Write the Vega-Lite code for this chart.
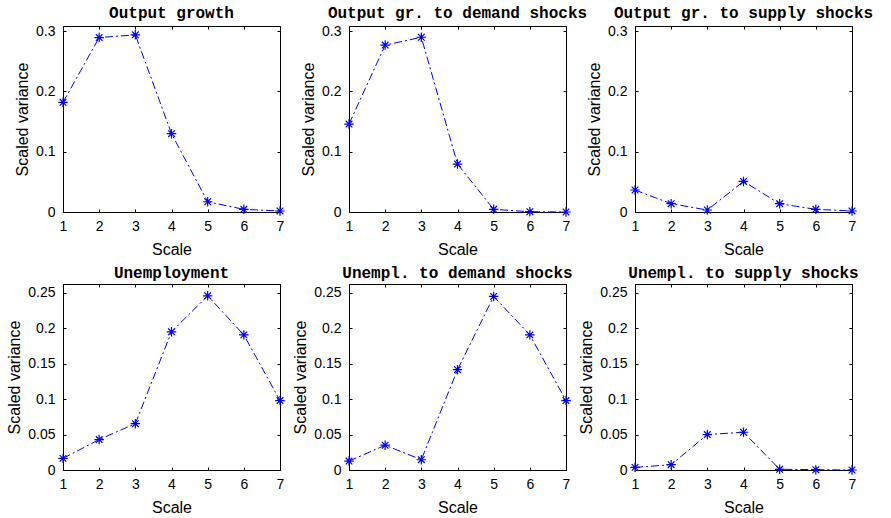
{
  "$schema": "https://vega.github.io/schema/vega-lite/v6.json",
  "background": "white",
  "padding": {"left": 5, "top": 4, "right": 5, "bottom": 5},
  "columns": 3,
  "spacing": {"row": 72, "column": 69},
  "bounds": "flush",
  "datasets": {
    "d": [
      {"panel": "p1", "scale": 1, "v": 0.182}, {"panel": "p1", "scale": 2, "v": 0.2895}, {"panel": "p1", "scale": 3, "v": 0.294}, {"panel": "p1", "scale": 4, "v": 0.130}, {"panel": "p1", "scale": 5, "v": 0.017}, {"panel": "p1", "scale": 6, "v": 0.0044}, {"panel": "p1", "scale": 7, "v": 0.0017},
      {"panel": "p2", "scale": 1, "v": 0.146}, {"panel": "p2", "scale": 2, "v": 0.277}, {"panel": "p2", "scale": 3, "v": 0.290}, {"panel": "p2", "scale": 4, "v": 0.0796}, {"panel": "p2", "scale": 5, "v": 0.0044}, {"panel": "p2", "scale": 6, "v": 0.0005}, {"panel": "p2", "scale": 7, "v": 0.0},
      {"panel": "p3", "scale": 1, "v": 0.0365}, {"panel": "p3", "scale": 2, "v": 0.0138}, {"panel": "p3", "scale": 3, "v": 0.0033}, {"panel": "p3", "scale": 4, "v": 0.0508}, {"panel": "p3", "scale": 5, "v": 0.0138}, {"panel": "p3", "scale": 6, "v": 0.0044}, {"panel": "p3", "scale": 7, "v": 0.0017},
      {"panel": "p4", "scale": 1, "v": 0.0164}, {"panel": "p4", "scale": 2, "v": 0.043}, {"panel": "p4", "scale": 3, "v": 0.0654}, {"panel": "p4", "scale": 4, "v": 0.195}, {"panel": "p4", "scale": 5, "v": 0.2458}, {"panel": "p4", "scale": 6, "v": 0.1907}, {"panel": "p4", "scale": 7, "v": 0.098},
      {"panel": "p5", "scale": 1, "v": 0.0126}, {"panel": "p5", "scale": 2, "v": 0.035}, {"panel": "p5", "scale": 3, "v": 0.0145}, {"panel": "p5", "scale": 4, "v": 0.1416}, {"panel": "p5", "scale": 5, "v": 0.2449}, {"panel": "p5", "scale": 6, "v": 0.1907}, {"panel": "p5", "scale": 7, "v": 0.098},
      {"panel": "p6", "scale": 1, "v": 0.0037}, {"panel": "p6", "scale": 2, "v": 0.0075}, {"panel": "p6", "scale": 3, "v": 0.050}, {"panel": "p6", "scale": 4, "v": 0.0533}, {"panel": "p6", "scale": 5, "v": 0.001}, {"panel": "p6", "scale": 6, "v": 0.0005}, {"panel": "p6", "scale": 7, "v": 0.0}
    ]
  },
  "config": {
    "view": {"stroke": "#000", "strokeWidth": 1},
    "title": {"font": "Liberation Mono", "fontWeight": "bold", "fontSize": 16, "color": "#000", "offset": 3, "anchor": "middle", "frame": "group"},
    "axis": {
      "labelFont": "Liberation Sans", "labelFontSize": 14, "labelColor": "#000",
      "titleFont": "Liberation Sans", "titleFontSize": 16, "titleFontWeight": "normal", "titleColor": "#000",
      "tickColor": "#000", "tickSize": -3, "domain": false, "grid": false,
      "labelFlush": false, "labelOverlap": false
    },
    "axisX": {"labelPadding": 10, "titlePadding": 8},
    "axisY": {"labelPadding": 11, "titlePadding": 5.5}
  },
  "concat": [
    {
      "title": "Output growth", "width": 217, "height": 186,
      "data": {"name": "d"}, "transform": [{"filter": "datum.panel === 'p1'"}],
      "layer": [
        {"mark": {"type": "line", "color": "#0000ff", "strokeWidth": 1, "strokeDash": [8, 3, 2, 3]},
         "encoding": {"x": {"field": "scale", "type": "quantitative", "scale": {"domain": [1, 7], "nice": false}, "axis": {"values": [1,2,3,4,5,6,7], "format": "d", "title": "Scale"}},
                      "y": {"field": "v", "type": "quantitative", "scale": {"domain": [0, 0.3087], "nice": false}, "axis": {"values": [0, 0.1, 0.2, 0.3], "format": "~g", "title": "Scaled variance"}}}},
        {"mark": {"type": "point", "shape": "M-1,0L1,0M0,-1L0,1M-0.7,-0.7L0.7,0.7M-0.7,0.7L0.7,-0.7", "filled": false, "color": "#0000ff", "size": 90, "strokeWidth": 1.2, "opacity": 1},
         "encoding": {"x": {"field": "scale", "type": "quantitative", "axis": null}, "y": {"field": "v", "type": "quantitative", "axis": null}}},
        {"mark": {"type": "line", "opacity": 0},
         "encoding": {"x": {"field": "scale", "type": "quantitative", "axis": {"orient": "top", "labels": false, "title": null, "values": [1,2,3,4,5,6,7]}},
                      "y": {"field": "v", "type": "quantitative", "axis": {"orient": "right", "labels": false, "title": null, "values": [0, 0.1, 0.2, 0.3]}}}}
      ],
      "resolve": {"axis": {"x": "independent", "y": "independent"}}
    },
    {
      "title": "Output gr. to demand shocks", "width": 217, "height": 186,
      "data": {"name": "d"}, "transform": [{"filter": "datum.panel === 'p2'"}],
      "layer": [
        {"mark": {"type": "line", "color": "#0000ff", "strokeWidth": 1, "strokeDash": [8, 3, 2, 3]},
         "encoding": {"x": {"field": "scale", "type": "quantitative", "scale": {"domain": [1, 7], "nice": false}, "axis": {"values": [1,2,3,4,5,6,7], "format": "d", "title": "Scale"}},
                      "y": {"field": "v", "type": "quantitative", "scale": {"domain": [0, 0.3087], "nice": false}, "axis": {"values": [0, 0.1, 0.2, 0.3], "format": "~g", "title": "Scaled variance"}}}},
        {"mark": {"type": "point", "shape": "M-1,0L1,0M0,-1L0,1M-0.7,-0.7L0.7,0.7M-0.7,0.7L0.7,-0.7", "filled": false, "color": "#0000ff", "size": 90, "strokeWidth": 1.2, "opacity": 1},
         "encoding": {"x": {"field": "scale", "type": "quantitative", "axis": null}, "y": {"field": "v", "type": "quantitative", "axis": null}}},
        {"mark": {"type": "line", "opacity": 0},
         "encoding": {"x": {"field": "scale", "type": "quantitative", "axis": {"orient": "top", "labels": false, "title": null, "values": [1,2,3,4,5,6,7]}},
                      "y": {"field": "v", "type": "quantitative", "axis": {"orient": "right", "labels": false, "title": null, "values": [0, 0.1, 0.2, 0.3]}}}}
      ],
      "resolve": {"axis": {"x": "independent", "y": "independent"}}
    },
    {
      "title": "Output gr. to supply shocks", "width": 217, "height": 186,
      "data": {"name": "d"}, "transform": [{"filter": "datum.panel === 'p3'"}],
      "layer": [
        {"mark": {"type": "line", "color": "#0000ff", "strokeWidth": 1, "strokeDash": [8, 3, 2, 3]},
         "encoding": {"x": {"field": "scale", "type": "quantitative", "scale": {"domain": [1, 7], "nice": false}, "axis": {"values": [1,2,3,4,5,6,7], "format": "d", "title": "Scale"}},
                      "y": {"field": "v", "type": "quantitative", "scale": {"domain": [0, 0.3087], "nice": false}, "axis": {"values": [0, 0.1, 0.2, 0.3], "format": "~g", "title": "Scaled variance"}}}},
        {"mark": {"type": "point", "shape": "M-1,0L1,0M0,-1L0,1M-0.7,-0.7L0.7,0.7M-0.7,0.7L0.7,-0.7", "filled": false, "color": "#0000ff", "size": 90, "strokeWidth": 1.2, "opacity": 1},
         "encoding": {"x": {"field": "scale", "type": "quantitative", "axis": null}, "y": {"field": "v", "type": "quantitative", "axis": null}}},
        {"mark": {"type": "line", "opacity": 0},
         "encoding": {"x": {"field": "scale", "type": "quantitative", "axis": {"orient": "top", "labels": false, "title": null, "values": [1,2,3,4,5,6,7]}},
                      "y": {"field": "v", "type": "quantitative", "axis": {"orient": "right", "labels": false, "title": null, "values": [0, 0.1, 0.2, 0.3]}}}}
      ],
      "resolve": {"axis": {"x": "independent", "y": "independent"}}
    },
    {
      "title": "Unemployment", "width": 217, "height": 186,
      "data": {"name": "d"}, "transform": [{"filter": "datum.panel === 'p4'"}],
      "layer": [
        {"mark": {"type": "line", "color": "#0000ff", "strokeWidth": 1, "strokeDash": [8, 3, 2, 3]},
         "encoding": {"x": {"field": "scale", "type": "quantitative", "scale": {"domain": [1, 7], "nice": false}, "axis": {"values": [1,2,3,4,5,6,7], "format": "d", "title": "Scale"}},
                      "y": {"field": "v", "type": "quantitative", "scale": {"domain": [0, 0.2625], "nice": false}, "axis": {"values": [0, 0.05, 0.1, 0.15, 0.2, 0.25], "format": "~g", "title": "Scaled variance"}}}},
        {"mark": {"type": "point", "shape": "M-1,0L1,0M0,-1L0,1M-0.7,-0.7L0.7,0.7M-0.7,0.7L0.7,-0.7", "filled": false, "color": "#0000ff", "size": 90, "strokeWidth": 1.2, "opacity": 1},
         "encoding": {"x": {"field": "scale", "type": "quantitative", "axis": null}, "y": {"field": "v", "type": "quantitative", "axis": null}}},
        {"mark": {"type": "line", "opacity": 0},
         "encoding": {"x": {"field": "scale", "type": "quantitative", "axis": {"orient": "top", "labels": false, "title": null, "values": [1,2,3,4,5,6,7]}},
                      "y": {"field": "v", "type": "quantitative", "axis": {"orient": "right", "labels": false, "title": null, "values": [0, 0.05, 0.1, 0.15, 0.2, 0.25]}}}}
      ],
      "resolve": {"axis": {"x": "independent", "y": "independent"}}
    },
    {
      "title": "Unempl. to demand shocks", "width": 217, "height": 186,
      "data": {"name": "d"}, "transform": [{"filter": "datum.panel === 'p5'"}],
      "layer": [
        {"mark": {"type": "line", "color": "#0000ff", "strokeWidth": 1, "strokeDash": [8, 3, 2, 3]},
         "encoding": {"x": {"field": "scale", "type": "quantitative", "scale": {"domain": [1, 7], "nice": false}, "axis": {"values": [1,2,3,4,5,6,7], "format": "d", "title": "Scale"}},
                      "y": {"field": "v", "type": "quantitative", "scale": {"domain": [0, 0.2625], "nice": false}, "axis": {"values": [0, 0.05, 0.1, 0.15, 0.2, 0.25], "format": "~g", "title": "Scaled variance"}}}},
        {"mark": {"type": "point", "shape": "M-1,0L1,0M0,-1L0,1M-0.7,-0.7L0.7,0.7M-0.7,0.7L0.7,-0.7", "filled": false, "color": "#0000ff", "size": 90, "strokeWidth": 1.2, "opacity": 1},
         "encoding": {"x": {"field": "scale", "type": "quantitative", "axis": null}, "y": {"field": "v", "type": "quantitative", "axis": null}}},
        {"mark": {"type": "line", "opacity": 0},
         "encoding": {"x": {"field": "scale", "type": "quantitative", "axis": {"orient": "top", "labels": false, "title": null, "values": [1,2,3,4,5,6,7]}},
                      "y": {"field": "v", "type": "quantitative", "axis": {"orient": "right", "labels": false, "title": null, "values": [0, 0.05, 0.1, 0.15, 0.2, 0.25]}}}}
      ],
      "resolve": {"axis": {"x": "independent", "y": "independent"}}
    },
    {
      "title": "Unempl. to supply shocks", "width": 217, "height": 186,
      "data": {"name": "d"}, "transform": [{"filter": "datum.panel === 'p6'"}],
      "layer": [
        {"mark": {"type": "line", "color": "#0000ff", "strokeWidth": 1, "strokeDash": [8, 3, 2, 3]},
         "encoding": {"x": {"field": "scale", "type": "quantitative", "scale": {"domain": [1, 7], "nice": false}, "axis": {"values": [1,2,3,4,5,6,7], "format": "d", "title": "Scale"}},
                      "y": {"field": "v", "type": "quantitative", "scale": {"domain": [0, 0.2625], "nice": false}, "axis": {"values": [0, 0.05, 0.1, 0.15, 0.2, 0.25], "format": "~g", "title": "Scaled variance"}}}},
        {"mark": {"type": "point", "shape": "M-1,0L1,0M0,-1L0,1M-0.7,-0.7L0.7,0.7M-0.7,0.7L0.7,-0.7", "filled": false, "color": "#0000ff", "size": 90, "strokeWidth": 1.2, "opacity": 1},
         "encoding": {"x": {"field": "scale", "type": "quantitative", "axis": null}, "y": {"field": "v", "type": "quantitative", "axis": null}}},
        {"mark": {"type": "line", "opacity": 0},
         "encoding": {"x": {"field": "scale", "type": "quantitative", "axis": {"orient": "top", "labels": false, "title": null, "values": [1,2,3,4,5,6,7]}},
                      "y": {"field": "v", "type": "quantitative", "axis": {"orient": "right", "labels": false, "title": null, "values": [0, 0.05, 0.1, 0.15, 0.2, 0.25]}}}}
      ],
      "resolve": {"axis": {"x": "independent", "y": "independent"}}
    }
  ]
}
